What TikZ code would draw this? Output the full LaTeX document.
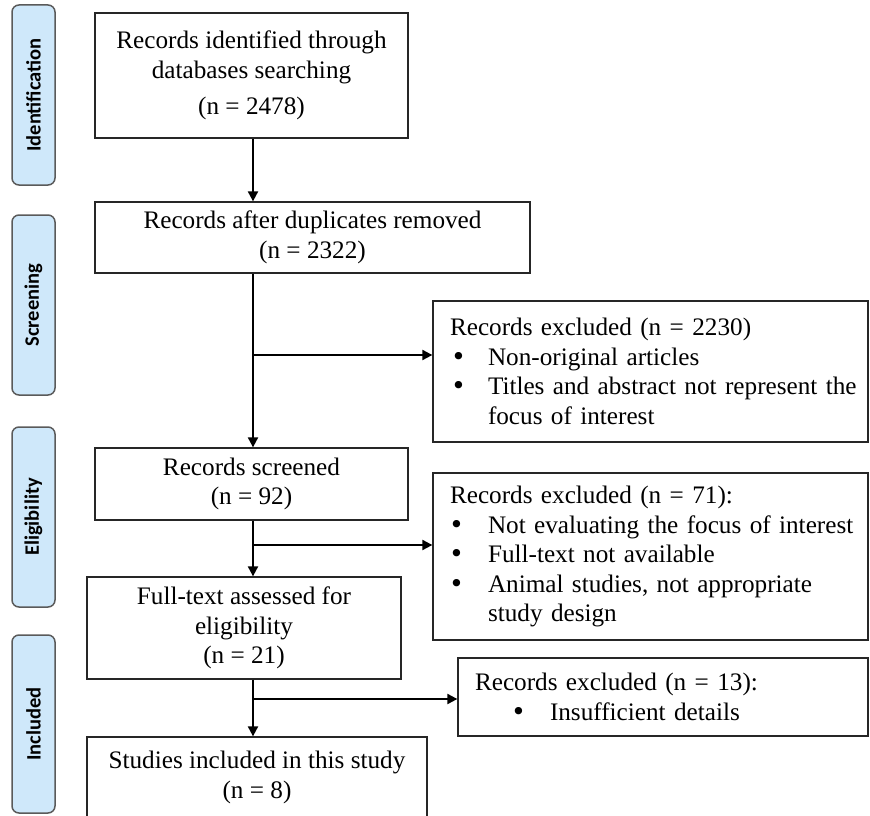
\documentclass[tikz,border=0pt]{standalone}
\usepackage{fontspec}
\setmainfont{Liberation Serif}
\newfontfamily\stagefont{Carlito}
\newfontfamily\bulfont{DejaVu Sans}
\usetikzlibrary{arrows.meta}
\definecolor{stagefill}{HTML}{CFE8FA}
\definecolor{stageline}{HTML}{5A5A5A}
\newcommand\bigbul{{\bulfont •}}
\newcommand\bitem[3]{\mbox{\hspace*{#1}\makebox[#2][l]{\bigbul}#3}}
\begin{document}
\begin{tikzpicture}[x=1pt,y=-1pt,
  box/.style={draw=black!85, line width=1.3pt, inner sep=0pt, align=center,
    font=\fontsize{25.2}{29.5}\selectfont},
  excl/.style={draw=black!85, line width=1.3pt, inner xsep=17pt, inner ysep=0pt,
    align=left, font=\fontsize{25.2}{29.5}\selectfont},
  stage/.style={draw=stageline, fill=stagefill, line width=1.5pt, rounded corners=7pt,
    minimum height=43pt, inner sep=0pt, rotate=90,
    font=\stagefont\bfseries\fontsize{20.5}{23}\selectfont},
  arr/.style={-{Triangle[length=10pt,width=10pt]}, line width=2pt}]
\useasboundingbox (0,0) rectangle (870,816);
\begin{scope}
\clip (0,0) rectangle (870,816);
% stage bars
\node[stage, minimum width=180pt] (s1) at (33.5,95) {Identification};
\node[stage, minimum width=180pt] (s2) at (33.5,305) {Screening};
\node[stage, minimum width=180pt] (s3) at (33.5,517) {Eligibility};
\node[stage, minimum width=178pt] (s4) at (33.5,724) {Included};
% main boxes
\node[box, minimum width=313pt, minimum height=125pt] (b1) at (251.5,75.5)
  {Records identified through\\databases searching\\[7pt](n = 2478)};
\node[box, minimum width=435pt, minimum height=71pt] (b2) at (312.5,237.5)
  {Records after duplicates removed\\(n = 2322)};
\node[box, minimum width=313pt, minimum height=72pt] (b3) at (251.5,484)
  {Records screened\\(n = 92)};
\node[box, minimum width=314pt, minimum height=102pt] (b4) at (244,628)
  {Full-text assessed for\\eligibility\\(n = 21)};
\node[box, minimum width=340pt, minimum height=81pt] (b5) at (257,777.5)
  {Studies included in this study\\(n = 8)};
% exclusion boxes
\node[excl, text width=401pt, minimum height=141pt] (e1) at (650.5,371.5)
  {Records excluded (n = 2230)\\
   \bitem{1pt}{37pt}{Non-original articles}\\
   \bitem{1pt}{37pt}{Titles and abstract not represent the}\\
   \hspace*{38pt}focus of interest};
\node[excl, text width=401pt, minimum height=167pt] (e2) at (650.5,556.5)
  {Records excluded (n = 71):\\
   \bitem{-1pt}{39pt}{Not evaluating the focus of interest}\\
   \bitem{-1pt}{39pt}{Full-text not available}\\
   \bitem{-1pt}{39pt}{Animal studies, not appropriate}\\
   \hspace*{38pt}study design};
\node[excl, text width=376pt, minimum height=78pt] (e3) at (663,697)
  {Records excluded (n = 13):\\
   \bitem{36pt}{39pt}{Insufficient details}};
% connectors
\coordinate (spine) at (253,0);
\coordinate (j1) at (253,355);
\coordinate (j2) at (253,545);
\coordinate (j3) at (253,699);
\draw[arr] (b1.south -| spine) -- (b2.north -| spine);
\draw[arr] (b2.south -| spine) -- (b3.north -| spine);
\draw[arr] (b3.south -| spine) -- (b4.north -| spine);
\draw[arr] (b4.south -| spine) -- (b5.north -| spine);
\draw[arr] (j1) -- (j1 -| e1.west);
\draw[arr] (j2) -- (j2 -| e2.west);
\draw[arr] (j3) -- (j3 -| e3.west);
\end{scope}
\end{tikzpicture}
\end{document}
